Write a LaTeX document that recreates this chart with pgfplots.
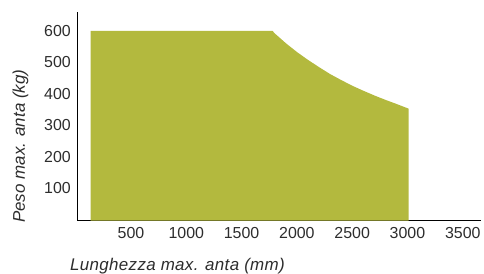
\documentclass[border=0pt]{standalone}
\usepackage{pgfplots}
\pgfplotsset{compat=1.18}
\usepackage{fontspec}
\setmainfont{Liberation Sans}
\definecolor{olive}{RGB}{179,185,62}
\definecolor{txt}{RGB}{45,45,45}
\begin{document}
\begin{tikzpicture}
\begin{axis}[
  scale only axis,
  width=403.3bp, height=209bp,
  xmin=18, xmax=3665,
  ymin=-3, ymax=661,
  axis x line*=bottom, axis y line*=left,
  axis line style={black, line width=0.8bp},
  xtick={500,1000,1500,2000,2500,3000,3500},
  ytick={100,200,300,400,500,600},
  major tick length=0pt,
  /pgf/number format/assume math mode=true,
  /pgf/number format/1000 sep={},
  tick label style={font=\fontsize{16}{19}\selectfont, text=txt},
  xticklabel style={anchor=base, inner sep=0pt, yshift=-17.6bp},
  yticklabel style={anchor=east, inner sep=0pt, xshift=-6.7bp},
  clip=false,
]
\addplot[fill=olive, draw=none] coordinates {
  (136,-3) (136,600) (1780,600) (1800,592) (1900,561) (2000,533) (2100,508)
  (2200,485) (2300,463) (2400,444) (2500,426) (2600,410) (2700,395)
  (2800,381) (2900,368) (3010,353) (3010,-3)
} -- cycle;
\coordinate (O) at (rel axis cs:0,0);
\end{axis}
\node[rotate=90, anchor=base west, inner sep=0pt, text=txt, font=\fontsize{17}{20}\selectfont\itshape]
  at ([xshift=-52.7bp, yshift=-2.3bp]O) {Peso max. anta (kg)};
\node[anchor=base west, inner sep=0pt, text=txt, font=\fontsize{17}{20}\selectfont\itshape\addfontfeature{LetterSpace=2}]
  at ([xshift=-7.7bp, yshift=-50bp]O) {Lunghezza max. anta (mm)};
\pgfresetboundingbox
\path ([xshift=-77.7bp, yshift=-53.3bp]O) rectangle ++(484bp,274bp);
\end{tikzpicture}
\end{document}
